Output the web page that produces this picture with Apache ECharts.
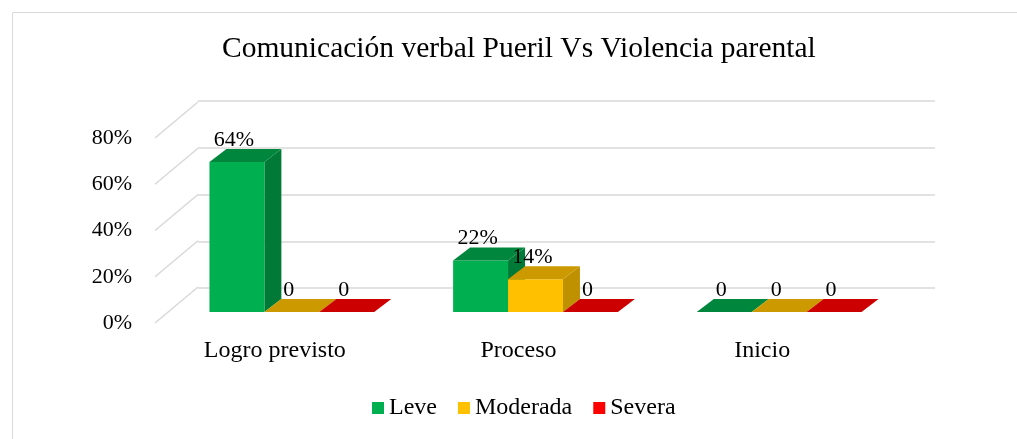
<!DOCTYPE html>
<html>
<head>
<meta charset="utf-8">
<script src="https://cdn.jsdelivr.net/npm/echarts@6/dist/echarts.min.js"></script>
<style>
	html, body { margin: 0; padding: 0; background: #fff; }
	#chart { width: 1017px; height: 439px; }
</style>
</head>
<body>
<div id="chart"></div>
<script>
var categories = ['Logro previsto', 'Proceso', 'Inicio'];
var seriesNames = ['Leve', 'Moderada', 'Severa'];
var leve = [64, 22, 0];
var moderada = [0, 14, 0];
var severa = [0, 0, 0];
var yTicks = [0, 20, 40, 60, 80];

var FONT = '"Liberation Serif", "Times New Roman", serif';
// front / top / side colours of each 3d bar
var faces = [
	{ front: '#00B050', top: '#00873D', side: '#007A36' },
	{ front: '#FFC000', top: '#CC9A00', side: '#BF9000' },
	{ front: '#FF0000', top: '#CC0000', side: '#B00000' }
];
var DX = 17, DY = -13; // bar depth

function barRenderer(s) {
	return function (params, api) {
		var ci = api.value(0), v = api.value(1);
		var top = api.coord([ci, v]);
		var base = api.coord([ci, 0]);
		var bw = api.size([1, 0])[0] * 0.2254;
		var x0 = top[0] - 1.5 * bw + s * bw;
		var c = faces[s];
		var children = [];
		if (base[1] - top[1] > 0.5) {
			children.push({
				type: 'polygon',
				shape: { points: [[x0 + bw, top[1]], [x0 + bw + DX, top[1] + DY], [x0 + bw + DX, base[1] + DY], [x0 + bw, base[1]]] },
				style: { fill: c.side }
			});
			children.push({
				type: 'rect',
				shape: { x: x0, y: top[1], width: bw, height: base[1] - top[1] },
				style: { fill: c.front }
			});
		}
		children.push({
			type: 'polygon',
			shape: { points: [[x0, top[1]], [x0 + bw, top[1]], [x0 + bw + DX, top[1] + DY], [x0 + DX, top[1] + DY]] },
			style: { fill: c.top }
		});
		children.push({
			type: 'text',
			style: {
				x: x0 + bw / 2 - 3,
				y: top[1] + DY - 9,
				text: v === 0 ? '0' : v + '%',
				fill: '#000',
				font: '22px ' + FONT,
				align: 'center',
				verticalAlign: 'middle'
			}
		});
		return { type: 'group', children: children };
	};
}

function toData(arr) {
	return arr.map(function (v, i) { return [i, v]; });
}

var chart = echarts.init(document.getElementById('chart'));
var option = {
	backgroundColor: '#fff',
	animation: false,
	title: {
		text: 'Comunicación verbal Pueril Vs Violencia parental',
		left: 222,
		top: 34,
		padding: 0,
		textStyle: { fontFamily: FONT, fontSize: 29.5, fontWeight: 'normal', color: '#000' }
	},
	legend: {
		data: seriesNames,
		left: 372,
		top: 396,
		padding: 0,
		icon: 'rect',
		itemWidth: 12,
		itemHeight: 12,
		itemGap: 21,
		textStyle: { fontFamily: FONT, fontSize: 24, color: '#000' }
	},
	graphic: [{
		type: 'rect',
		shape: { x: 12.5, y: 12.5, width: 1020, height: 440 },
		style: { fill: 'none', stroke: '#D9D9D9', lineWidth: 1 }
	}],
	grid: [
		// back wall
		{ left: 198, right: 82, top: 101, bottom: 151 },
		// front floor edge (axis labels)
		{ left: 153, right: 133, top: 138, bottom: 116 },
		// bar front plane
		{ left: 170, right: 116, top: 124.5, bottom: 127 }
	],
	xAxis: [
		{ gridIndex: 0, type: 'category', data: categories, show: false },
		{
			gridIndex: 1, type: 'category', data: categories,
			axisLine: { show: false }, axisTick: { show: false },
			axisLabel: { margin: 16, fontFamily: FONT, fontSize: 24, color: '#000' }
		},
		{ gridIndex: 2, type: 'category', data: categories, show: false }
	],
	yAxis: [
		{
			gridIndex: 0, type: 'value', min: 0, max: 80, interval: 20,
			axisLabel: { show: false }, axisLine: { show: false }, axisTick: { show: false },
			splitLine: { lineStyle: { color: '#D9D9D9', width: 1.5 } }
		},
		{
			gridIndex: 1, type: 'value', min: 0, max: 80, interval: 20,
			axisLine: { show: false }, axisTick: { show: false }, splitLine: { show: false },
			axisLabel: { margin: 21, formatter: '{value}%', fontFamily: FONT, fontSize: 22, color: '#000' }
		},
		{ gridIndex: 2, type: 'value', min: 0, max: 80, show: false, splitLine: { show: false } }
	],
	series: [
		{
			// diagonal gridlines on the side wall
			type: 'custom',
			xAxisIndex: 1, yAxisIndex: 1,
			silent: true,
			data: yTicks.map(function (t) { return [0, t]; }),
			renderItem: function (params, api) {
				var p = api.coord([0, api.value(1)]);
				var x = params.coordSys.x;
				return {
					type: 'line',
					shape: { x1: x + 2, y1: p[1], x2: x + 45, y2: p[1] - 36 },
					style: { stroke: '#D9D9D9', lineWidth: 1.5 }
				};
			}
		},
		{
			name: seriesNames[0], type: 'custom', xAxisIndex: 2, yAxisIndex: 2,
			itemStyle: { color: faces[0].front },
			data: toData(leve), renderItem: barRenderer(0)
		},
		{
			name: seriesNames[1], type: 'custom', xAxisIndex: 2, yAxisIndex: 2,
			itemStyle: { color: faces[1].front },
			data: toData(moderada), renderItem: barRenderer(1)
		},
		{
			name: seriesNames[2], type: 'custom', xAxisIndex: 2, yAxisIndex: 2,
			itemStyle: { color: faces[2].front },
			data: toData(severa), renderItem: barRenderer(2)
		}
	]
};
chart.setOption(option);
</script>
</body>
</html>
